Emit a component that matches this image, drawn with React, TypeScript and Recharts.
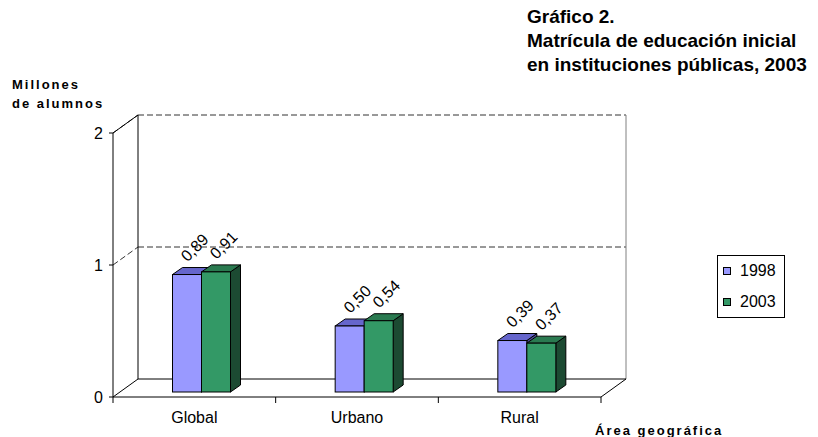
import {
	Bar,
	BarChart,
	CartesianGrid,
	LabelList,
	ReferenceArea,
	XAxis,
	YAxis,
} from 'recharts';

const categories = ['Global', 'Urbano', 'Rural'];
const values1998 = [0.89, 0.5, 0.39];
const values2003 = [0.91, 0.54, 0.37];
const yTicks = [0, 1, 2];
const seriesNames = ['1998', '2003'];
const seriesColors = ['#9999FF', '#339966'];
const titleLines = [
	'Gráfico 2.',
	'Matrícula de educación inicial',
	'en instituciones públicas, 2003',
];
const yTitle = ['Millones', 'de alumnos'];
const xTitle = 'Área geográfica';

const data = categories.map((area, i) => ({
	area,
	y1998: values1998[i],
	y2003: values2003[i],
}));

const FONT = "'Liberation Sans', Arial, Helvetica, sans-serif";
// depth of the 3D box
const DX = 25;
const DY = -18;
// bars sit a bit inside the box
const OX = 7.5;
const OY = -5;
// depth of each bar
const BDX = 10;
const BDY = -7;

const bar3d = (topFill: string, sideFill: string) => (props: any) => {
	const { x, y, width: w, height: h, fill } = props;
	if (w == null || h == null) return <g />;
	const fx = x + OX;
	const fy = y + OY;
	return (
		<g>
			<polygon
				points={`${fx + w},${fy} ${fx + w + BDX},${fy + BDY} ${fx + w + BDX},${fy + h + BDY} ${fx + w},${fy + h}`}
				fill={sideFill}
				stroke='#000'
			/>
			<polygon
				points={`${fx},${fy} ${fx + BDX},${fy + BDY} ${fx + w + BDX},${fy + BDY} ${fx + w},${fy}`}
				fill={topFill}
				stroke='#000'
			/>
			<rect x={fx} y={fy} width={w} height={h} fill={fill} stroke='#000' />
		</g>
	);
};

const valueLabel = (props: any) => {
	const { x, y, value } = props;
	const px = Number(x) + OX + 15;
	const py = Number(y) + OY - 12;
	return (
		<text
			x={px}
			y={py}
			transform={`rotate(-45 ${px} ${py})`}
			fontSize={16}
			fontFamily={FONT}
			fill='#000'
		>
			{Number(value).toFixed(2).replace('.', ',')}
		</text>
	);
};

// category label plus the tick marks on the band edges
const categoryTick = (props: any) => {
	const { x, y, payload, index, visibleTicksCount } = props;
	const half = payload.offset || 0;
	return (
		<g>
			<line x1={x - half} y1={y - 14} x2={x - half} y2={y - 8} stroke='#000' />
			{index === visibleTicksCount - 1 && (
				<line x1={x + half} y1={y - 14} x2={x + half} y2={y - 8} stroke='#000' />
			)}
			<text
				x={x}
				y={y + 12}
				textAnchor='middle'
				fontSize={16}
				fontFamily={FONT}
				fill='#000'
			>
				{payload.value}
			</text>
		</g>
	);
};

const wallShape = (props: any) => {
	const { x, y, width: w, height: h } = props;
	return (
		<g fill='none'>
			<line x1={x} y1={y} x2={x + DX} y2={y + DY} stroke='#000' />
			<line x1={x + DX} y1={y + DY} x2={x + DX} y2={y + h + DY} stroke='#000' />
			<line x1={x + w + DX} y1={y + DY} x2={x + w + DX} y2={y + h + DY} stroke='#808080' />
			<line x1={x + DX} y1={y + h + DY} x2={x + w + DX} y2={y + h + DY} stroke='#000' />
			<line x1={x} y1={y + h} x2={x + DX} y2={y + h + DY} stroke='#000' />
			<line x1={x + w} y1={y + h} x2={x + w + DX} y2={y + h + DY} stroke='#000' />
		</g>
	);
};

const gridLine = (p: any) => (
	<g key={`grid-${p.y1}`}>
		<line
			x1={p.x1}
			y1={p.y1}
			x2={p.x1 + DX}
			y2={p.y1 + DY}
			stroke='#333'
			strokeDasharray='6 3'
		/>
		<line
			x1={p.x1 + DX}
			y1={p.y1 + DY}
			x2={p.x2 + DX}
			y2={p.y2 + DY}
			stroke='#333'
			strokeDasharray='6 3'
		/>
	</g>
);

function LegendBox() {
	return (
		<div
			style={{
				position: 'absolute',
				left: 717,
				top: 255,
				width: 68,
				height: 63,
				boxSizing: 'border-box',
				border: '1px solid #000',
				fontFamily: FONT,
				fontSize: 16,
				background: '#fff',
			}}
		>
			{seriesNames.map((name, i) => (
				<div
					key={name}
					style={{
						position: 'absolute',
						left: 5,
						top: 6 + i * 31,
						display: 'flex',
						alignItems: 'center',
						lineHeight: '18px',
					}}
				>
					<span
						style={{
							display: 'inline-block',
							width: 6,
							height: 6,
							border: '1px solid #000',
							background: seriesColors[i],
							marginRight: 9,
						}}
					/>
					<span>{name}</span>
				</div>
			))}
		</div>
	);
}

export default function App() {
	return (
		<div style={{ position: 'absolute', left: 0, top: 0, width: 818, height: 437, background: '#fff' }}>
			<BarChart
				width={818}
				height={437}
				data={data}
				barGap={0}
				margin={{ top: 133, right: 217, bottom: 10, left: 53 }}
			>
				<CartesianGrid
					vertical={false}
					horizontal={gridLine}
					horizontalValues={[1, 2]}
				/>
				<XAxis
					dataKey='area'
					axisLine={{ stroke: '#000' }}
					tickLine={false}
					tickSize={0}
					tickMargin={14}
					height={30}
					interval={0}
					tick={categoryTick}
				/>
				<YAxis
					domain={[0, 2]}
					ticks={yTicks}
					width={60}
					axisLine={{ stroke: '#000' }}
					tickLine={{ stroke: '#000' }}
					tickSize={4}
					tickMargin={6}
					tick={{ fontSize: 16, fill: '#000', fontFamily: FONT }}
				/>
				<ReferenceArea y1={0} y2={2} shape={wallShape} ifOverflow='visible' />
				<Bar
					dataKey='y1998'
					name={seriesNames[0]}
					fill={seriesColors[0]}
					barSize={29}
					shape={bar3d('#6666CC', '#4D4D99')}
					isAnimationActive={false}
				>
					<LabelList dataKey='y1998' content={valueLabel} />
				</Bar>
				<Bar
					dataKey='y2003'
					name={seriesNames[1]}
					fill={seriesColors[1]}
					barSize={29}
					shape={bar3d('#2A7A50', '#1C4A32')}
					isAnimationActive={false}
				>
					<LabelList dataKey='y2003' content={valueLabel} />
				</Bar>
			</BarChart>
			<LegendBox />
			<svg
				width={818}
				height={437}
				style={{ position: 'absolute', left: 0, top: 0, pointerEvents: 'none' }}
			>
				{titleLines.map((t, i) => (
					<text
						key={t}
						x={527}
						y={23 + i * 24}
						fontFamily={FONT}
						fontSize={19}
						fontWeight='bold'
						fill='#000'
					>
						{t}
					</text>
				))}
				{yTitle.map((t, i) => (
					<text
						key={t}
						x={12}
						y={89 + i * 19}
						fontFamily={FONT}
						fontSize={13}
						fontWeight='bold'
						letterSpacing={2}
						fill='#000'
					>
						{t}
					</text>
				))}
				<text
					x={595}
					y={435}
					fontFamily={FONT}
					fontSize={13}
					fontWeight='bold'
					letterSpacing={2}
					fill='#000'
				>
					{xTitle}
				</text>
			</svg>
		</div>
	);
}
